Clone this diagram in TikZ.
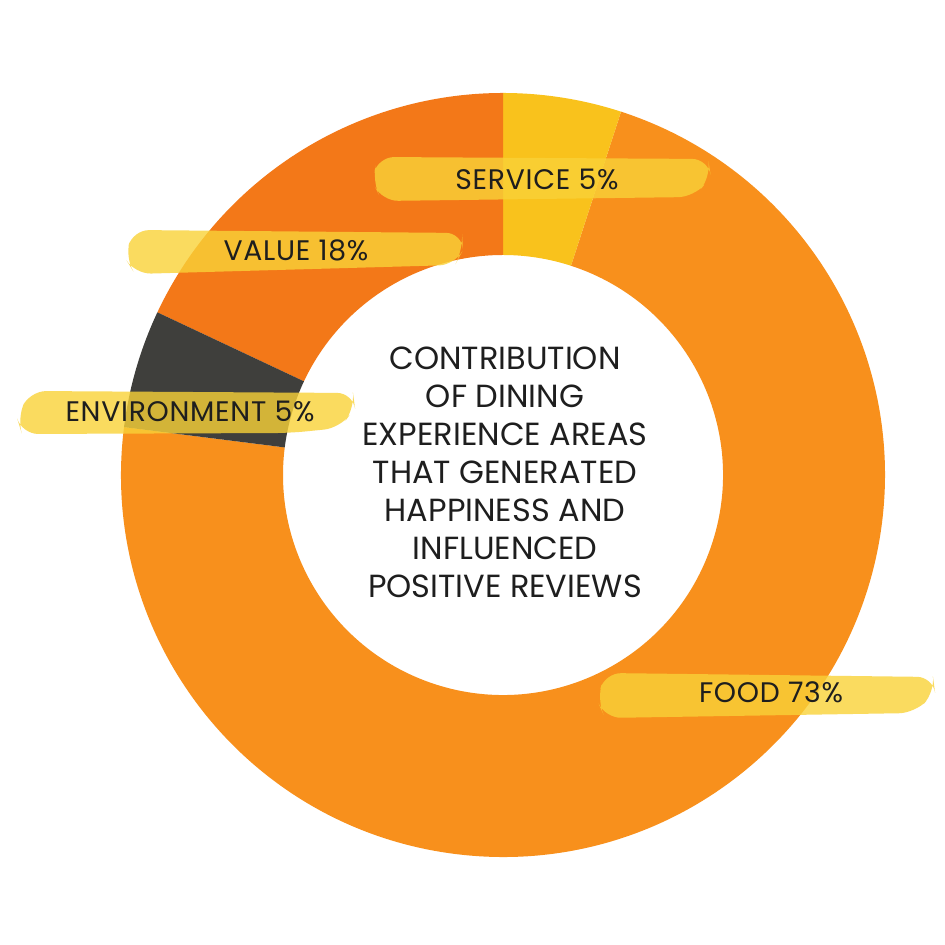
\documentclass[tikz,border=0pt]{standalone}
\usepackage{fontspec}
\newfontfamily\labfont{Poppins}
\newfontfamily\bandfont{Poppins}[LetterSpace=2.5]
\definecolor{foodc}{HTML}{F8901C}
\definecolor{valuec}{HTML}{F37818}
\definecolor{servc}{HTML}{F9C21C}
\definecolor{envc}{HTML}{3F3F3C}
\definecolor{hilite}{HTML}{F9D238}
\definecolor{inkc}{HTML}{1E1E1E}
\begin{document}
\begin{tikzpicture}[x=0.75pt,y=0.75pt,
  band/.style={fill=hilite,fill opacity=0.8,rounded corners=12pt},
  lab/.style={text=inkc,font=\bandfont\fontsize{21.2}{28.5}\selectfont,inner sep=0pt},
  title/.style={text=inkc,inner sep=0pt,align=center,font=\labfont\fontsize{24}{28.5}\selectfont}]
\useasboundingbox (0,0) rectangle (945,945);
\fill[white] (0,0) rectangle (945,945);
\begin{scope}[shift={(503,470)}]
  \fill[foodc] (172.8:382) arc[start angle=172.8,end angle=432,radius=382]
     -- (432:220) arc[start angle=432,end angle=172.8,radius=220] -- cycle;
  \fill[servc] (72:382) arc[start angle=72,end angle=90,radius=382]
     -- (90:220) arc[start angle=90,end angle=72,radius=220] -- cycle;
  \fill[valuec] (90:382) arc[start angle=90,end angle=154.8,radius=382]
     -- (154.8:220) arc[start angle=154.8,end angle=90,radius=220] -- cycle;
  \fill[envc] (154.8:382) arc[start angle=154.8,end angle=172.8,radius=382]
     -- (172.8:220) arc[start angle=172.8,end angle=154.8,radius=220] -- cycle;
\end{scope}
% highlight bands
\fill[band] (372,764) -- (378,788) -- (708,786) -- (711,768) -- (694,748) -- (382,744) -- cycle;
\fill[band] (125,687) -- (133,715) -- (462,712) -- (463,695) -- (455,680) -- (135,671) -- cycle;
\fill[band] (17,527) -- (30,554) -- (353,552) -- (355,537) -- (340,517) -- (290,512) -- (22,511) -- cycle;
\fill[band] (597,245) -- (605,272) -- (933,268) -- (935,253) -- (915,232) -- (605,227) -- cycle;
% labels
\node[lab] (service) at (537,766) {SERVICE 5\%};
\node[lab] (value) at (296,695) {VALUE 18\%};
\node[lab] (env) at (190,534) {ENVIRONMENT 5\%};
\node[lab] (food) at (771,253) {FOOD 73\%};
\node[title] (centre) at (505,473) {CONTRIBUTION\\OF DINING\\EXPERIENCE AREAS\\THAT GENERATED\\HAPPINESS AND\\INFLUENCED\\POSITIVE REVIEWS};
\end{tikzpicture}
\end{document}
